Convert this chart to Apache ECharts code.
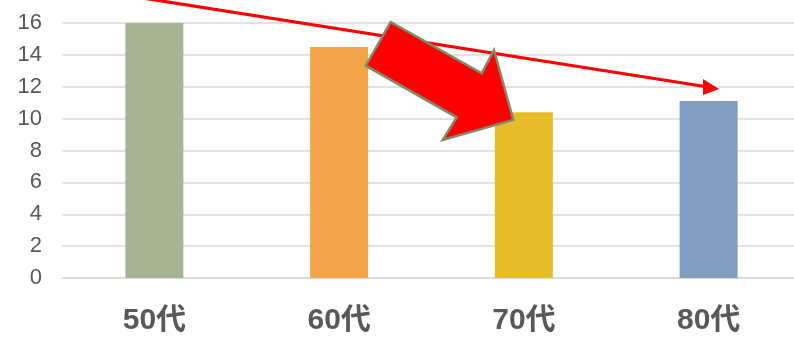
<!DOCTYPE html>
<html>
<head>
<meta charset="utf-8">
<script src="https://cdn.jsdelivr.net/npm/echarts@6/dist/echarts.min.js"></script>
<style>
  html, body { margin: 0; padding: 0; background: #fff; }
  #chart { width: 794px; height: 347px; }
</style>
</head>
<body>
<div id="chart"></div>
<script>
// Age groups and their values
const categories = ['50代', '60代', '70代', '80代'];
const values = [16.0, 14.5, 10.4, 11.1];
const barColors = ['#A5B592', '#F3A447', '#E7BC29', '#809EC2'];
const yTicks = [0, 2, 4, 6, 8, 10, 12, 14, 16];

const chart = echarts.init(document.getElementById('chart'), null, { renderer: 'canvas' });

// Decorative arrows (pixel positions)
const trendLine = [[130, -4], [705, 86.5]];
const trendHead = [[719, 89], [703, 79], [703, 95]];
const blockArrow = [
  [390.7, 22], [481.7, 73.3], [494, 50], [513.3, 120],
  [442.7, 140], [456.7, 117.3], [365.7, 65.7]
];

chart.setOption({
  animation: false,
  grid: {
    left: 62, width: 739, top: 23, bottom: 69,
    containLabel: false, outerBoundsMode: 'none'
  },
  xAxis: {
    type: 'category',
    data: categories,
    axisLine: { show: true, lineStyle: { color: '#d9d9d9', width: 1.5 } },
    axisTick: { show: false },
    axisLabel: {
      margin: 28,
      color: '#595959',
      fontFamily: 'Liberation Sans, Arial, Noto Sans CJK JP, sans-serif',
      fontWeight: 'bold',
      fontSize: 30
    }
  },
  yAxis: {
    type: 'value',
    min: yTicks[0],
    max: yTicks[yTicks.length - 1],
    interval: yTicks[1] - yTicks[0],
    axisLine: { show: false },
    axisTick: { show: false },
    splitLine: { lineStyle: { color: '#d9d9d9', width: 1.5 } },
    axisLabel: {
      margin: 20,
      color: '#595959',
      fontFamily: 'Liberation Sans, Arial, sans-serif',
      fontSize: 22
    }
  },
  series: [{
    type: 'bar',
    barWidth: '31.4%',
    data: values.map((v, i) => ({ value: v, itemStyle: { color: barColors[i] } }))
  }],
  graphic: [
    {
      type: 'polyline', z: 100,
      shape: { points: trendLine },
      style: { stroke: '#ff0000', lineWidth: 3.2, fill: null }
    },
    {
      type: 'polygon', z: 100,
      shape: { points: trendHead },
      style: { fill: '#ff0000' }
    },
    {
      type: 'polygon', z: 101,
      shape: { points: blockArrow },
      style: { fill: '#ff0000', stroke: '#7F8B6A', lineWidth: 2.5, lineJoin: 'miter' }
    }
  ]
});
</script>
</body>
</html>
